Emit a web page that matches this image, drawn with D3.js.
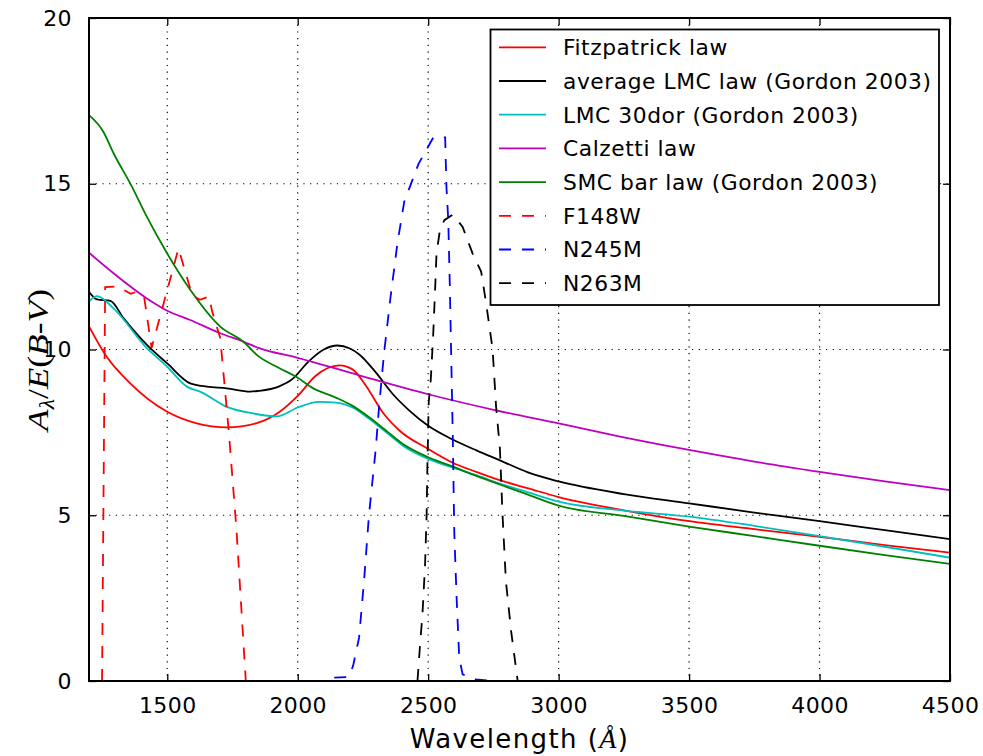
<!DOCTYPE html>
<html>
<head>
<meta charset="utf-8">
<script src="https://cdn.jsdelivr.net/npm/d3@7"></script>
<style>
body { margin: 0; background: #fff; }
text { font-family: "DejaVu Sans", sans-serif; }
</style>
</head>
<body>
<svg id="chart" width="983" height="756"></svg>
<script>
// extinction laws, [wavelength (A), A_lambda/E(B-V)]
const fitzpatrick = [[1200,10.7],[1268,9.78],[1358,8.98],[1500,8.12],[1613,7.77],[1728,7.65],[1843,7.78],[1927,8.1],[2000,8.6],[2068,9.2],[2159,9.52],[2210,9.4],[2262,8.9],[2326,8.1],[2391,7.55],[2500,7.0],[2590,6.6],[2687,6.3],[2777,6.05],[2880,5.82],[3000,5.55],[3250,5.15],[3500,4.82],[3750,4.58],[4000,4.35],[4250,4.1],[4500,3.87]];
const lmcAvg = [[1200,11.74],[1231,11.51],[1282,11.47],[1333,10.94],[1422,10.14],[1500,9.58],[1588,8.98],[1652,8.88],[1728,8.83],[1818,8.73],[1849,8.75],[1927,8.88],[1978,9.1],[2043,9.65],[2100,10.0],[2152,10.12],[2200,10.03],[2236,9.85],[2300,9.3],[2365,8.65],[2429,8.15],[2500,7.7],[2590,7.3],[2687,6.95],[2777,6.65],[2880,6.3],[3000,6.02],[3250,5.64],[3500,5.36],[3750,5.08],[4000,4.82],[4250,4.55],[4500,4.28]];
const lmc30dor = [[1200,11.45],[1231,11.61],[1294,11.24],[1422,10.04],[1500,9.48],[1575,8.88],[1626,8.73],[1728,8.27],[1830,8.07],[1920,7.98],[2000,8.25],[2081,8.42],[2146,8.4],[2210,8.25],[2275,7.9],[2339,7.5],[2403,7.1],[2500,6.7],[2590,6.45],[2687,6.2],[2777,5.95],[2880,5.7],[3000,5.41],[3250,5.14],[3500,4.96],[3750,4.68],[4000,4.37],[4250,4.05],[4500,3.72]];
const calzetti = [[1200,12.92],[1294,12.3],[1422,11.54],[1500,11.17],[1588,10.89],[1703,10.49],[1791,10.24],[1849,10.05],[2000,9.75],[2236,9.22],[2500,8.65],[2751,8.18],[3000,7.77],[3250,7.35],[3500,6.97],[3750,6.62],[4000,6.31],[4250,6.02],[4500,5.76]];
const smcBar = [[1200,17.07],[1255,16.57],[1294,15.92],[1358,15.01],[1422,14.0],[1492,13.0],[1588,11.8],[1703,10.69],[1791,10.24],[1849,9.8],[1927,9.45],[2000,9.15],[2055,8.85],[2146,8.55],[2210,8.3],[2275,7.95],[2339,7.55],[2403,7.15],[2500,6.75],[2590,6.48],[2687,6.18],[2777,5.92],[2880,5.63],[3000,5.29],[3250,4.98],[3500,4.66],[3750,4.37],[4000,4.08],[4250,3.8],[4500,3.53]];

// filter curves (scaled)
const f148w = [[1250,0],[1262,11.88],[1310,11.9],[1360,11.68],[1385,11.75],[1412,11.55],[1440,10.05],[1543,13.05],[1595,11.65],[1625,11.5],[1660,11.6],[1672,11.15],[1703,10.35],[1735,7.6],[1765,4.6],[1801,0]];
const n245m = [[2140,0.1],[2195,0.12],[2212,0.45],[2235,1.3],[2254,3.0],[2273,5.0],[2299,7.0],[2312,8.3],[2331,9.9],[2356,11.6],[2382,13.2],[2408,14.45],[2463,15.6],[2520,16.4],[2565,16.4],[2570,14.9],[2577,13.9],[2583,11.9],[2588,9.9],[2594,7.5],[2600,4.5],[2609,2.5],[2619,0.7],[2632,0.2],[2683,0.05],[2750,0]];
const n263m = [[2459,0],[2468,1.0],[2478,2.0],[2488,3.5],[2494,5.0],[2497,6.5],[2502,8.4],[2510,9.1],[2519,10.4],[2527,11.9],[2532,12.9],[2545,13.6],[2562,13.9],[2594,14.07],[2632,13.7],[2670,12.9],[2703,12.35],[2722,11.4],[2747,10.0],[2760,8.3],[2775,7.0],[2785,5.0],[2798,3.0],[2818,1.5],[2843,0]];

const xTicks = [1500,2000,2500,3000,3500,4000,4500];
const yTicks = [0,5,10,15,20];

const series = [
    {name:'Fitzpatrick law', data:fitzpatrick, color:'#ff0000', dash:null},
    {name:'average LMC law (Gordon 2003)', data:lmcAvg, color:'#000000', dash:null},
    {name:'LMC 30dor (Gordon 2003)', data:lmc30dor, color:'#00bfbf', dash:null},
    {name:'Calzetti law', data:calzetti, color:'#bf00bf', dash:null},
    {name:'SMC bar law (Gordon 2003)', data:smcBar, color:'#008000', dash:null},
    {name:'F148W', data:f148w, color:'#ff0000', dash:'12,11'},
    {name:'N245M', data:n245m, color:'#0000ff', dash:'12,11'},
    {name:'N263M', data:n263m, color:'#000000', dash:'12,11'},
];

const margin = {top:18, right:33, bottom:75, left:89};
const width = 983, height = 756;
const iw = width - margin.left - margin.right;
const ih = height - margin.top - margin.bottom;

const svg = d3.select('#chart');
const chart = svg.append('g')
    .attr('transform', `translate(${margin.left},${margin.top})`);

const xscale = d3.scaleLinear().domain([1200,4500]).range([0, iw]);
const yscale = d3.scaleLinear().domain([0,20]).range([ih, 0]);

chart.append('clipPath').attr('id','clip')
    .append('rect').attr('width', iw).attr('height', ih);

// grid
chart.append('g').selectAll('line').data(xTicks).join('line')
    .attr('x1', d => xscale(d)).attr('x2', d => xscale(d))
    .attr('y1', 0).attr('y2', ih)
    .attr('stroke', '#000').attr('stroke-width', 1.2)
    .attr('stroke-dasharray', '1.2,5.5');
chart.append('g').selectAll('line').data(yTicks).join('line')
    .attr('x1', 0).attr('x2', iw)
    .attr('y1', d => yscale(d)).attr('y2', d => yscale(d))
    .attr('stroke', '#000').attr('stroke-width', 1.2)
    .attr('stroke-dasharray', '1.2,5.5');

// curves
const smooth = d3.line().x(d => xscale(d[0])).y(d => yscale(d[1])).curve(d3.curveMonotoneX);
const straight = d3.line().x(d => xscale(d[0])).y(d => yscale(d[1]));
const lines = chart.append('g').attr('clip-path', 'url(#clip)');
series.forEach(s => {
    lines.append('path')
        .attr('d', s.dash ? straight(s.data) : smooth(s.data))
        .attr('fill', 'none')
        .attr('stroke', s.color)
        .attr('stroke-width', 1.8)
        .attr('stroke-dasharray', s.dash);
});

// axes (ticks inside, on all sides)
const tickLen = 7;
const fmt = d3.format('d');
const xaxis_b = chart.append('g').attr('transform', `translate(0,${ih})`)
    .call(d3.axisBottom(xscale).tickValues(xTicks).tickFormat(fmt).tickSizeInner(-tickLen).tickSizeOuter(0).tickPadding(tickLen + 9));
const xaxis_t = chart.append('g')
    .call(d3.axisTop(xscale).tickValues(xTicks).tickSizeInner(-tickLen).tickSizeOuter(0).tickFormat(''));
const yaxis_l = chart.append('g')
    .call(d3.axisLeft(yscale).tickValues(yTicks).tickFormat(fmt).tickSizeInner(-tickLen).tickSizeOuter(0).tickPadding(tickLen + 10));
const yaxis_r = chart.append('g').attr('transform', `translate(${iw},0)`)
    .call(d3.axisRight(yscale).tickValues(yTicks).tickSizeInner(-tickLen).tickSizeOuter(0).tickFormat(''));
[xaxis_b, xaxis_t, yaxis_l, yaxis_r].forEach(a => {
    a.select('.domain').remove();
    a.selectAll('line').attr('stroke', '#000').attr('stroke-width', 1.3);
    a.selectAll('text').attr('font-size', 22).attr('fill', '#000')
        .attr('letter-spacing', 0.4)
        .style('font-family', '"DejaVu Sans", sans-serif');
});
chart.append('rect').attr('width', iw).attr('height', ih)
    .attr('fill', 'none').attr('stroke', '#000').attr('stroke-width', 2);

// labels
const xl = svg.append('text')
    .attr('x', margin.left + iw / 2).attr('y', 748)
    .attr('text-anchor', 'middle').attr('font-size', 26)
    .attr('letter-spacing', 1.4);
xl.append('tspan').text('Wavelength (');
xl.append('tspan').text('Å').style('font-family', '"Liberation Serif", serif').attr('font-style', 'italic').attr('font-size', 28);
xl.append('tspan').text(')');

const yl = svg.append('text')
    .attr('transform', `translate(48,360) rotate(-90)`)
    .attr('text-anchor', 'middle')
    .style('font-family', '"Liberation Serif", serif')
    .attr('font-size', 30)
    .attr('textLength', 142).attr('lengthAdjust', 'spacingAndGlyphs');
yl.append('tspan').text('A').attr('font-style', 'italic');
yl.append('tspan').text('λ').attr('font-style', 'italic').attr('font-size', 20).attr('dy', 6);
yl.append('tspan').text('/').attr('dy', -6);
yl.append('tspan').text('E').attr('font-style', 'italic');
yl.append('tspan').text('(');
yl.append('tspan').text('B').attr('font-style', 'italic');
yl.append('tspan').text('-');
yl.append('tspan').text('V').attr('font-style', 'italic');
yl.append('tspan').text(')');

// legend
const legend = svg.append('g');
legend.append('rect')
    .attr('x', 490.5).attr('y', 29.5).attr('width', 448.5).attr('height', 275.5)
    .attr('fill', '#fff').attr('stroke', '#000').attr('stroke-width', 1.8);
series.forEach((s, i) => {
    const cy = 47.3 + i * 33.7;
    legend.append('line')
        .attr('x1', 499).attr('x2', 546).attr('y1', cy).attr('y2', cy)
        .attr('stroke', s.color).attr('stroke-width', 1.8)
        .attr('stroke-dasharray', s.dash);
    legend.append('text')
        .attr('x', 563).attr('y', cy + 7.8)
        .attr('font-size', 21.8)
        .attr('letter-spacing', 0.55)
        .text(s.name);
});
</script>
</body>
</html>
